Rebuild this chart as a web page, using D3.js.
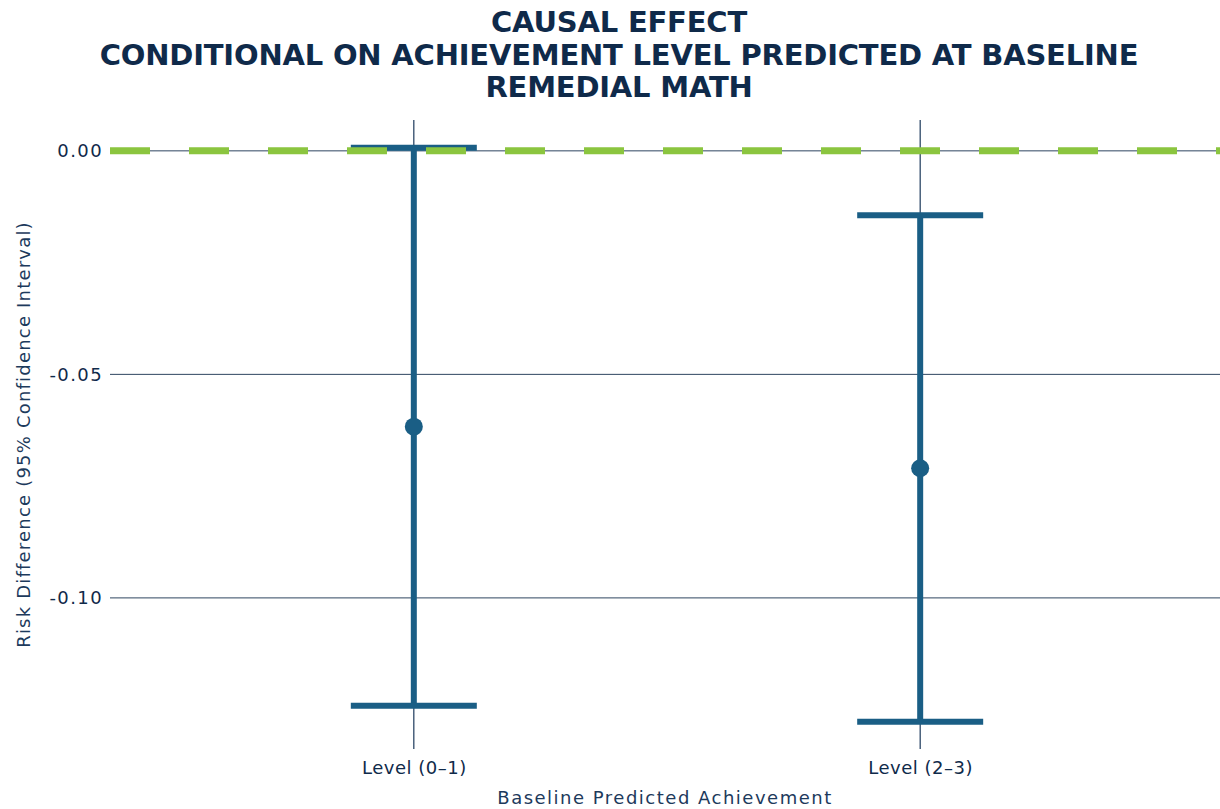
<!DOCTYPE html>
<html>
<head>
<meta charset="utf-8">
<script src="https://cdn.jsdelivr.net/npm/d3@7"></script>
<style>
  body { margin: 0; background: #fff; }
</style>
</head>
<body>
<div id="chart"></div>
<script>
'use strict';

// Data: estimate and 95% CI per predicted achievement level
var categories = ['Level (0\u20131)', 'Level (2\u20133)'];
var estimates = [-0.0617, -0.0710];
var ciLower = [-0.1241, -0.1277];
var ciUpper = [0.0007, -0.0144];
var yTicks = [0, -0.05, -0.10];
var titleLines = ['CAUSAL EFFECT', 'CONDITIONAL ON ACHIEVEMENT LEVEL PREDICTED AT BASELINE', 'REMEDIAL MATH'];

var W = 1220, H = 809;
var margin = {top: 120, right: 0, bottom: 60, left: 110};
var width = W - margin.left - margin.right;
var height = 629;

var navy = '#0f2a4a', barColor = '#1a5e85', green = '#8bc53f';
var font = '"DejaVu Sans", sans-serif';

var svg = d3.select('#chart').append('svg')
  .attr('width', W)
  .attr('height', H);

// Title
svg.append('g').selectAll('text')
  .data(titleLines)
  .enter().append('text')
    .attr('x', 619)
    .attr('y', function(d, i) { return 32 + i * 32.5 })
    .attr('text-anchor', 'middle')
    .attr('font-family', font)
    .attr('font-size', 29)
    .attr('font-weight', 'bold')
    .attr('letter-spacing', -0.2)
    .attr('fill', navy)
    .text(function(d) { return d })

var g = svg.append('g')
  .attr('transform', 'translate(' + margin.left + ',' + margin.top + ')')

// Scales
var x = d3.scalePoint()
  .domain(categories)
  .range([0, width + 4])
  .padding(0.6)

var y = d3.scaleLinear()
  .domain([0.0069, -0.1338])
  .range([0, height])

// Grid
g.selectAll('.hgrid')
  .data(yTicks)
  .enter().append('line')
    .attr('x1', 0).attr('x2', width)
    .attr('y1', function(d) { return y(d) })
    .attr('y2', function(d) { return y(d) })
    .attr('stroke', '#2e4560')
    .attr('stroke-width', 1)

g.selectAll('.vgrid')
  .data(categories)
  .enter().append('line')
    .attr('x1', function(d) { return x(d) })
    .attr('x2', function(d) { return x(d) })
    .attr('y1', 0).attr('y2', height)
    .attr('stroke', '#1d3a5c')
    .attr('stroke-width', 1.2)

// Axes
var fmt = d3.format('.2f')
var yAxis = d3.axisLeft(y)
  .tickValues(yTicks)
  .tickFormat(function(d) { return fmt(d).replace('\u2212', '-') })
  .tickSize(0)
  .tickPadding(7)
g.append('g')
  .attr('class', 'axis axis--y')
  .call(yAxis)

var xAxis = d3.axisBottom(x)
  .tickSize(0)
  .tickPadding(12)
g.append('g')
  .attr('class', 'axis axis--x')
  .attr('transform', 'translate(0,' + height + ')')
  .call(xAxis)

g.selectAll('.domain').remove()
g.selectAll('.tick text')
  .attr('font-family', font)
  .attr('font-size', 18)
  .attr('fill', navy)
g.selectAll('.axis--y .tick text')
  .attr('letter-spacing', 1.4)
g.selectAll('.axis--x .tick text')
  .attr('letter-spacing', 0.5)

// Axis titles
svg.append('text')
  .attr('x', margin.left + width / 2)
  .attr('y', 804)
  .attr('text-anchor', 'middle')
  .attr('font-family', font)
  .attr('font-size', 18)
  .attr('letter-spacing', 1.5)
  .attr('fill', '#1d3a5c')
  .text('Baseline Predicted Achievement')

svg.append('text')
  .attr('transform', 'translate(30,' + (margin.top + height / 2) + ') rotate(-90)')
  .attr('text-anchor', 'middle')
  .attr('font-family', font)
  .attr('font-size', 18)
  .attr('letter-spacing', 1.2)
  .attr('fill', '#1d3a5c')
  .text('Risk Difference (95% Confidence Interval)')

// Error bars
var rows = categories.map(function(c, i) {
  return {cat: c, est: estimates[i], lo: ciLower[i], hi: ciUpper[i]}
})
var capW = 63

var bars = g.selectAll('.errbar')
  .data(rows)
  .enter().append('g')
    .attr('class', 'errbar')

bars.append('line')
  .attr('x1', function(d) { return x(d.cat) })
  .attr('x2', function(d) { return x(d.cat) })
  .attr('y1', function(d) { return y(d.hi) })
  .attr('y2', function(d) { return y(d.lo) })
  .attr('stroke', barColor)
  .attr('stroke-width', 6)

bars.selectAll('.cap')
  .data(function(d) { return [{cat: d.cat, v: d.hi}, {cat: d.cat, v: d.lo}] })
  .enter().append('line')
    .attr('x1', function(d) { return x(d.cat) - capW })
    .attr('x2', function(d) { return x(d.cat) + capW })
    .attr('y1', function(d) { return y(d.v) })
    .attr('y2', function(d) { return y(d.v) })
    .attr('stroke', barColor)
    .attr('stroke-width', 6)

bars.append('circle')
  .attr('cx', function(d) { return x(d.cat) })
  .attr('cy', function(d) { return y(d.est) })
  .attr('r', 9)
  .attr('fill', barColor)

// Reference line at zero
g.append('line')
  .attr('x1', 0).attr('x2', width)
  .attr('y1', y(0)).attr('y2', y(0))
  .attr('stroke', green)
  .attr('stroke-width', 7)
  .attr('stroke-dasharray', '40,39')
</script>
</body>
</html>
